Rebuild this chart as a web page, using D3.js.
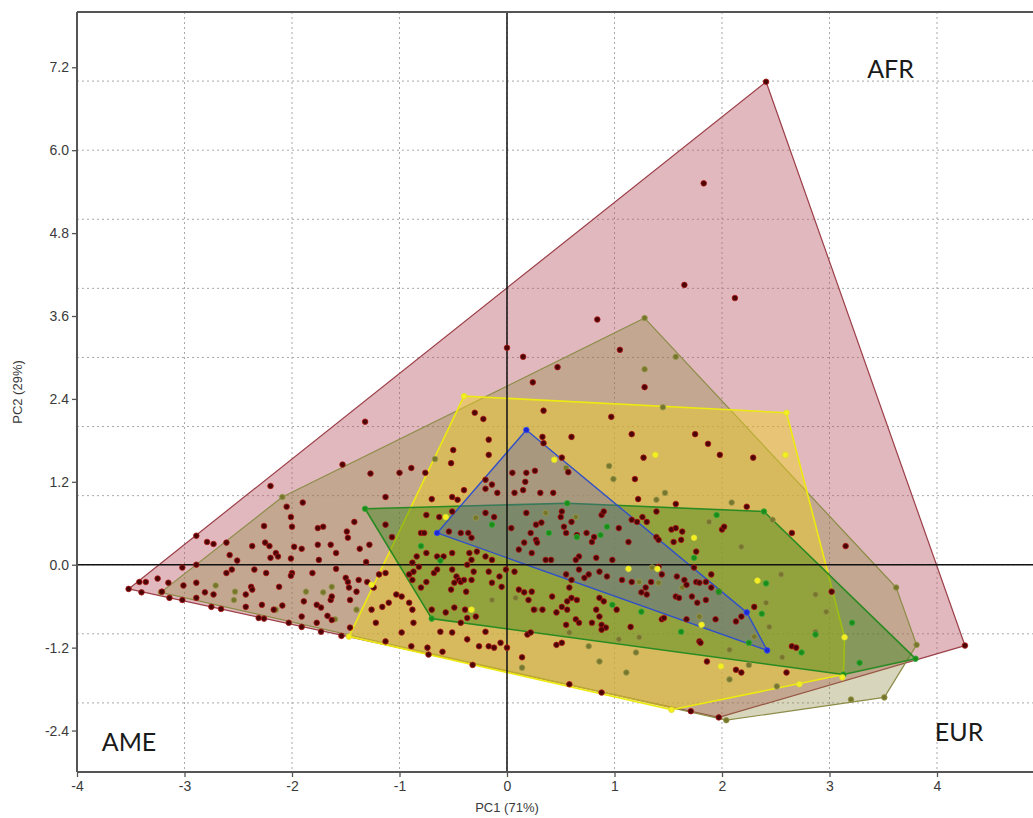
<!DOCTYPE html>
<html>
<head>
<meta charset="utf-8">
<script src="https://cdn.jsdelivr.net/npm/d3@7"></script>
<style>
  body { margin: 0; background: #fff; }
  svg { display: block; }
  .tick text { font-family: Arial, "Liberation Sans", sans-serif; font-size: 14px; fill: #3a3a3a; }
  .axis-title { font-family: Arial, "Liberation Sans", sans-serif; font-size: 13px; fill: #3a3a3a; }
  .region { font-family: Lato, "Open Sans", sans-serif; font-size: 25px; fill: #1a1a1a; }
</style>
</head>
<body>
<svg id="chart" width="1033" height="818"></svg>
<script>
// axis ticks
const xTicks = [-4, -3, -2, -1, 0, 1, 2, 3, 4];
const yTicks = [-2.4, -1.2, 0, 1.2, 2.4, 3.6, 4.8, 6.0, 7.2];
const xGrid = [-3, -2, -1, 0, 1, 2, 3, 4, 5];
const yGrid = [-2, -1, 0, 1, 2, 3, 4, 5, 6, 7];

// convex hulls, drawn back to front
const redHull = [[-3.52, -0.35], [2.41, 6.99], [4.26, -1.17], [1.97, -2.21]];
const oliveHull = [[-3.22, -0.40], [-2.09, 0.98], [1.28, 3.57], [3.62, -0.33], [3.81, -1.16], [3.51, -1.92], [2.04, -2.25]];
const yellowHull = [[-0.40, 2.44], [2.60, 2.20], [3.14, -1.05], [3.13, -1.59], [1.53, -2.10], [-1.47, -1.04]];
const greenHull = [[-1.32, 0.81], [0.56, 0.89], [2.39, 0.77], [3.80, -1.36], [3.13, -1.59], [-0.70, -0.78]];
const blueHull = [[0.18, 1.95], [2.23, -0.69], [2.42, -1.24], [-0.65, 0.46]];

// individual samples
const redPoints = [
  [0.00, 3.14], [0.15, 3.01], [0.24, 2.64], [0.34, 2.23], [-0.30, 2.20], [-0.22, 2.11], [-1.32, 2.07], [-0.17, 1.81],
  [-0.50, 1.66], [-0.17, 1.59], [-0.52, 1.47], [-1.53, 1.45], [-1.27, 1.32], [-1.00, 1.33], [-0.89, 1.40], [-0.76, 1.33],
  [0.33, 1.85], [0.34, 1.76], [-2.20, 1.14], [-1.13, 0.98], [-1.90, 0.90], [-2.05, 0.84], [-0.70, 0.95], [-0.51, 0.98],
  [-0.40, 1.08], [-0.46, 0.94], [-0.20, 1.23], [-0.14, 1.16], [-0.20, 1.10], [-0.09, 1.04], [0.05, 1.33], [0.18, 1.33],
  [0.26, 1.36], [0.17, 1.20], [0.15, 1.08], [0.07, 1.04], [0.31, 1.04], [0.43, 1.04], [0.47, 2.86],
  [1.83, 5.52], [1.65, 4.05], [2.12, 3.86], [0.84, 3.55], [1.05, 3.11], [1.28, 2.57], [0.97, 2.14], [0.60, 1.85],
  [1.16, 1.89], [1.75, 1.89], [1.87, 1.75], [1.98, 1.59], [2.29, 1.55], [1.27, 1.55], [1.19, 1.24], [1.22, 0.95],
  [0.57, 1.34], [0.51, 1.55], [1.57, 0.88], [2.23, 0.84],
  [-2.89, 0.42], [-2.79, 0.33], [-2.73, 0.30], [-2.61, 0.32], [-2.26, 0.56], [-2.37, 0.27], [-2.25, 0.32], [-2.21, 0.27],
  [-2.15, 0.17], [-2.13, 0.12], [-2.20, 0.10], [-2.58, 0.14], [-2.51, 0.06], [-2.01, 0.69], [-2.00, 0.55], [-1.98, 0.26],
  [-1.91, 0.23], [-2.01, 0.09], [-1.76, 0.53], [-1.71, 0.55], [-1.64, 0.29], [-1.59, 0.17], [-1.76, 0.29], [-1.42, 0.62],
  [-1.48, 0.39], [-1.37, 0.23], [-1.28, 0.29], [-1.31, 0.04], [-1.49, 0.48], [-1.13, 0.58], [-1.07, 0.40],
  [-2.89, 0.00], [-3.02, -0.04], [-2.61, -0.12], [-2.56, -0.07], [-2.35, -0.07], [-2.24, -0.12], [-2.00, -0.12], [-2.01, -0.16],
  [-3.42, -0.25], [-3.36, -0.25], [-3.25, -0.20], [-3.15, -0.26], [-3.21, -0.39], [-3.52, -0.35], [-3.40, -0.40], [-3.01, -0.30],
  [-2.89, -0.26], [-3.14, -0.48], [-3.02, -0.51], [-2.89, -0.48], [-2.81, -0.40], [-2.73, -0.43], [-2.75, -0.61], [-2.66, -0.64],
  [-2.43, -0.43], [-2.43, -0.61], [-2.38, -0.32], [-2.37, -0.36], [-2.28, -0.58], [-2.17, -0.65], [-2.09, -0.59], [-2.12, -0.32],
  [-2.31, -0.77], [-2.26, -0.78], [-2.03, -0.84], [-1.91, -0.90], [-1.89, -0.53], [-1.91, -0.75], [-1.77, -0.58], [-1.73, -0.62],
  [-1.77, -0.84], [-1.67, -0.74], [-1.73, -0.97], [-1.54, -1.03], [-1.63, -0.80], [-1.64, -0.51], [-1.63, -0.46], [-1.47, -0.33],
  [-1.46, -0.51], [-1.46, -0.91], [-1.50, -0.19], [-1.48, -0.25], [-1.40, -0.39], [-1.38, -0.22], [-1.30, -0.25], [-1.59, -0.06],
  [-1.75, 0.07], [-1.81, -0.12], [-1.19, -0.14], [-1.13, -0.12], [-1.24, -0.33], [-1.16, -0.61], [-1.26, -0.65], [-1.22, -0.84],
  [-1.13, -1.11], [-1.10, -0.55], [-1.03, -0.43], [-0.98, -0.46], [-0.91, -0.55], [-0.88, -0.65], [-0.98, -0.98], [-0.89, -1.18],
  [-0.73, -1.30], [-0.74, -1.20], [-0.60, -1.26], [-0.87, -0.84], [-0.70, -0.65], [-0.62, -0.97], [-0.51, -0.98], [-0.37, -1.08],
  [-0.32, -1.45], [-0.26, -1.18], [-0.17, -1.18], [-0.12, -1.20], [-0.06, -1.13], [-0.20, -0.97], [-0.43, -0.84], [-0.37, -0.77],
  [-0.29, -0.75], [-0.39, -0.65], [-0.49, -0.62], [-0.57, -0.69],
  [-0.88, 0.03], [-0.82, -0.03], [-0.87, -0.10], [-0.91, -0.14], [-0.88, -0.22], [-0.80, -0.33], [-0.75, -0.25], [-0.68, -0.12],
  [-0.65, -0.07], [-0.59, 0.12], [-0.51, -0.07], [-0.47, -0.17], [-0.45, -0.22], [-0.43, -0.25], [-0.40, -0.22], [-0.49, -0.26],
  [-0.52, -0.36], [-0.38, -0.39], [-0.33, -0.22], [-0.31, -0.10], [-0.37, 0.00], [-0.33, 0.07], [-0.51, 0.17], [-0.65, 0.12],
  [-0.75, 0.17], [-0.84, 0.12], [-0.80, 0.46], [-0.77, 0.46], [-0.75, 0.72], [-0.63, 0.69], [-0.51, 0.77], [-0.54, 0.48],
  [-0.43, 0.46], [-0.36, 0.46], [-0.33, 0.39], [-0.20, 0.75], [-0.12, 0.69], [-0.35, 0.17], [-0.28, 0.19], [-0.20, 0.12],
  [-0.14, 0.07], [-0.17, -0.10], [-0.14, -0.26], [-0.07, -0.17], [-0.05, -0.32], [-0.01, -0.07], [0.07, -0.10], [0.11, -0.36],
  [0.16, -0.40], [0.20, -0.51], [0.25, -0.65], [0.23, -0.39], [0.33, -0.65], [0.42, -0.46], [0.46, -0.69], [0.19, -1.01],
  [0.22, -0.98], [0.46, -1.16], [0.14, -1.34], [0.00, -1.20], [0.11, 0.22], [0.16, 0.32], [0.22, 0.46], [0.27, 0.36],
  [0.28, 0.32], [0.23, 0.17], [0.27, 0.58], [0.32, 0.61], [0.18, 0.75], [0.04, 0.53], [0.36, 0.07], [0.41, 0.07],
  [0.53, 0.55], [0.60, 0.62], [0.55, 0.46], [0.65, 0.43], [0.74, 0.46], [0.79, 0.33], [0.81, 0.40], [0.67, 0.12],
  [0.64, 0.07], [0.67, -0.07], [0.83, 0.10], [0.88, 0.72], [0.90, 0.77], [0.98, 0.07], [1.13, 0.33], [1.21, 0.62],
  [1.30, 0.62], [1.39, 0.77], [1.39, 0.40], [1.41, 0.36], [1.53, 0.51], [1.57, 0.53], [1.62, 0.36], [1.63, 0.48],
  [1.55, 0.33], [1.76, 0.19], [1.74, -0.04], [2.00, 0.51], [2.02, 0.55], [1.90, -0.14], [1.65, -0.22], [1.67, -0.29],
  [1.58, -0.17], [1.44, -0.14], [1.41, -0.03], [1.34, -0.25], [1.29, -0.33], [1.30, -0.43], [1.16, -0.25], [1.07, -0.22],
  [0.93, -0.17], [0.86, -0.10], [0.76, -0.14], [0.72, -0.19], [0.60, -0.22], [0.55, -0.14], [0.58, -0.33], [0.60, -0.48],
  [0.65, -0.51], [0.56, -0.53], [0.51, -0.61], [0.56, -0.65], [0.64, -0.79], [0.67, -0.84], [0.55, -0.87], [0.51, -1.13],
  [0.79, -0.84], [0.86, -0.75], [0.88, -0.87], [0.92, -0.91], [0.88, -0.94], [0.83, -0.65], [0.90, -0.53], [0.86, -0.48],
  [1.02, -0.65], [1.15, -0.90], [1.25, -0.40], [1.44, -0.79], [1.46, -0.77], [1.57, -0.46], [1.60, -0.48], [1.67, -0.79],
  [1.72, -0.46], [1.77, -0.55], [1.85, -0.51], [1.76, -0.25], [1.79, -0.26], [1.85, -0.25], [1.90, -0.33], [1.94, -0.79],
  [1.97, -0.39], [2.13, -0.82], [2.18, -0.75], [1.79, -1.11], [1.80, -1.13], [1.86, -1.40], [2.13, -1.52], [2.18, -1.56],
  [2.30, -0.61], [2.65, -1.18], [2.69, -1.20], [2.60, -1.56], [3.02, -0.39], [3.15, 0.27], [2.65, 0.46], [1.04, 0.53],
  [1.16, 0.65], [1.26, 0.69], [0.58, -1.73], [0.88, -1.85], [1.71, -2.12], [1.97, -2.21], [0.51, 0.77], [0.50, 0.69],
  [2.41, 6.99], [4.26, -1.17]
];
const olivePoints = [
  [-0.67, 1.53], [1.28, 2.83], [1.57, 3.01], [1.45, 2.28], [0.95, 1.43], [0.99, 1.24], [1.47, 1.04], [2.09, 0.90],
  [1.39, 0.94], [-2.71, -0.30], [-2.53, -0.39], [-2.54, -0.51], [-1.87, -0.39], [-1.71, -0.40], [-1.63, -0.32], [-1.60, -0.79],
  [-2.15, -0.65], [-1.40, -0.65], [2.55, -0.14], [1.88, 0.62], [2.18, 0.26], [2.41, -0.55], [2.44, -0.90], [2.97, -0.68],
  [2.87, -0.97], [2.87, -0.43], [2.47, 0.65], [2.25, -1.45], [2.51, -1.76], [2.07, -1.66], [3.20, -1.95], [3.62, -0.33],
  [3.81, -1.16], [3.51, -1.92], [2.04, -2.25], [1.20, -1.27], [0.86, -1.40], [0.76, -1.18], [1.04, -1.08], [1.23, -1.05],
  [1.28, 3.57], [-2.09, 0.98], [-3.22, -0.40], [-0.29, 0.68], [0.36, 0.75], [0.64, 0.69], [0.55, 1.40], [1.35, -0.04],
  [1.41, -0.26], [1.63, -0.33], [1.23, -0.25], [0.08, -0.48], [-0.14, -0.51], [0.27, -0.65], [0.58, -0.98], [0.14, -1.49],
  [1.11, -1.56], [1.79, -0.75], [2.07, -1.23], [2.30, -1.04], [2.56, -1.34]
];
const yellowPoints = [
  [1.38, 1.59], [2.59, 1.59], [-1.26, -0.29], [-0.33, -0.65], [-0.57, 0.69], [1.74, 0.39], [1.13, -0.06], [1.40, -0.06],
  [2.33, -0.23], [1.81, -0.87], [1.99, -1.47], [2.72, -1.73], [3.14, -1.05], [3.12, -1.63], [-0.40, 2.44], [2.60, 2.20],
  [-1.47, -1.04], [1.53, -2.10], [0.44, 1.52]
];
const greenPoints = [
  [-0.80, 0.27], [-0.62, 0.06], [1.95, 0.72], [1.74, 0.10], [1.97, -0.39], [2.41, -0.27], [2.37, -0.71], [2.74, -1.27],
  [3.21, -0.84], [3.28, -1.42], [2.87, -1.01], [0.98, -0.58], [1.25, -0.68], [1.62, -0.97], [2.25, -1.13], [3.13, -1.59],
  [3.80, -1.36], [0.87, 0.43], [0.65, 0.40], [0.93, 0.55], [-1.32, 0.81], [2.39, 0.77], [-0.70, -0.78], [-0.14, 0.58],
  [0.39, 0.46], [0.56, 0.89]
];
const bluePoints = [[0.18, 1.95], [2.23, -0.69], [2.42, -1.24], [-0.65, 0.46]];

// region labels: [text, x, y]
const regionLabels = [["AFR", 3.35, 7.05], ["AME", -3.77, -2.69], ["EUR", 3.98, -2.55]];

const svg = d3.select("#chart");
const margin = { left: 77, top: 12 };

const xScale = d3.scaleLinear().domain([-4, 5]).range([margin.left, margin.left + 9 * 107.5]);
const yScale = d3.scaleLinear().domain([-3, 8]).range([772, margin.top]);

const plotRight = xScale(5);
const hyphen = f => d => f(d).replace("\u2212", "-");

// grid
svg.append("g").selectAll("line")
  .data(xGrid)
  .join("line")
  .attr("x1", d => xScale(d)).attr("x2", d => xScale(d))
  .attr("y1", yScale(8)).attr("y2", yScale(-3))
  .attr("stroke", "#a8a8a8").attr("stroke-width", 1).attr("stroke-dasharray", "2,3");

svg.append("g").selectAll("line")
  .data(yGrid)
  .join("line")
  .attr("y1", d => yScale(d)).attr("y2", d => yScale(d))
  .attr("x1", xScale(-4)).attr("x2", plotRight)
  .attr("stroke", "#a8a8a8").attr("stroke-width", 1).attr("stroke-dasharray", "2,3");

// hulls
const hulls = [
  { pts: redHull, fill: "rgb(180,85,100)", op: 0.42, stroke: "#9c3f48", sw: 1.2 },
  { pts: oliveHull, fill: "rgb(140,135,60)", op: 0.35, stroke: "#8c8c48", sw: 1.2 },
  { pts: yellowHull, fill: "rgb(240,210,30)", op: 0.45, stroke: "#ecea10", sw: 1.6 },
  { pts: greenHull, fill: "rgb(50,130,20)", op: 0.42, stroke: "#2a8a22", sw: 1.6 },
  { pts: blueHull, fill: "rgb(80,90,190)", op: 0.35, stroke: "#3050c8", sw: 1.4 }
];

const line = d3.line().x(d => xScale(d[0])).y(d => yScale(d[1])).curve(d3.curveLinearClosed);

svg.append("g").selectAll("path")
  .data(hulls)
  .join("path")
  .attr("d", d => line(d.pts))
  .attr("fill", d => d.fill)
  .attr("fill-opacity", d => d.op)
  .attr("stroke", d => d.stroke)
  .attr("stroke-width", d => d.sw)
  .attr("stroke-linejoin", "round");

// reference lines through the origin
svg.append("line")
  .attr("x1", xScale(0)).attr("x2", xScale(0))
  .attr("y1", yScale(8)).attr("y2", yScale(-3))
  .attr("stroke", "#111").attr("stroke-width", 1.5);
svg.append("line")
  .attr("x1", xScale(-4)).attr("x2", plotRight)
  .attr("y1", yScale(0)).attr("y2", yScale(0))
  .attr("stroke", "#111").attr("stroke-width", 1.5);

// points
const groups = [
  { pts: olivePoints, fill: "#76762c", stroke: "#9a9a50" },
  { pts: redPoints, fill: "#4a0606", stroke: "#b01818" },
  { pts: greenPoints, fill: "#1a8c1a", stroke: "#3aaa3a" },
  { pts: yellowPoints, fill: "#f4f020", stroke: "#e0dc30" },
  { pts: bluePoints, fill: "#1a2ad8", stroke: "#3a4af0" }
];

groups.forEach(g => {
  svg.append("g").selectAll("circle")
    .data(g.pts)
    .join("circle")
    .attr("cx", d => xScale(d[0]))
    .attr("cy", d => yScale(d[1]))
    .attr("r", 2.8)
    .attr("fill", g.fill)
    .attr("stroke", g.stroke)
    .attr("stroke-width", 0.8);
});

// frame
svg.append("line")
  .attr("x1", xScale(-4)).attr("x2", plotRight)
  .attr("y1", yScale(8)).attr("y2", yScale(8))
  .attr("stroke", "#555").attr("stroke-width", 2);

// axes
const yAxis = svg.append("g")
  .attr("transform", `translate(${xScale(-4)},0)`)
  .call(d3.axisLeft(yScale).tickValues(yTicks).tickFormat(hyphen(d3.format(".1f"))).tickSize(5).tickPadding(3));
const xAxis = svg.append("g")
  .attr("transform", `translate(0,${yScale(-3)})`)
  .call(d3.axisBottom(xScale).tickValues(xTicks).tickFormat(hyphen(d3.format("d"))).tickSize(5).tickPadding(4));

[yAxis, xAxis].forEach(a => {
  a.select(".domain").attr("stroke", "#555").attr("stroke-width", 2);
  a.selectAll(".tick line").attr("stroke", "#555").attr("stroke-width", 1.3);
});
xAxis.select(".domain").attr("d", `M${xScale(-4)},0H${plotRight}`);
yAxis.select(".domain").attr("d", `M0,${yScale(-3)}V${yScale(8)}`);

// axis titles
svg.append("text")
  .attr("class", "axis-title")
  .attr("x", xScale(0)).attr("y", 812)
  .attr("text-anchor", "middle")
  .text("PC1 (71%)");
svg.append("text")
  .attr("class", "axis-title")
  .attr("transform", `translate(22,${yScale(2.5)}) rotate(-90)`)
  .attr("text-anchor", "middle")
  .text("PC2 (29%)");

// region labels
svg.append("g").selectAll("text")
  .data(regionLabels)
  .join("text")
  .attr("class", "region")
  .attr("x", d => xScale(d[1]))
  .attr("y", d => yScale(d[2]))
  .text(d => d[0]);
</script>
</body>
</html>
